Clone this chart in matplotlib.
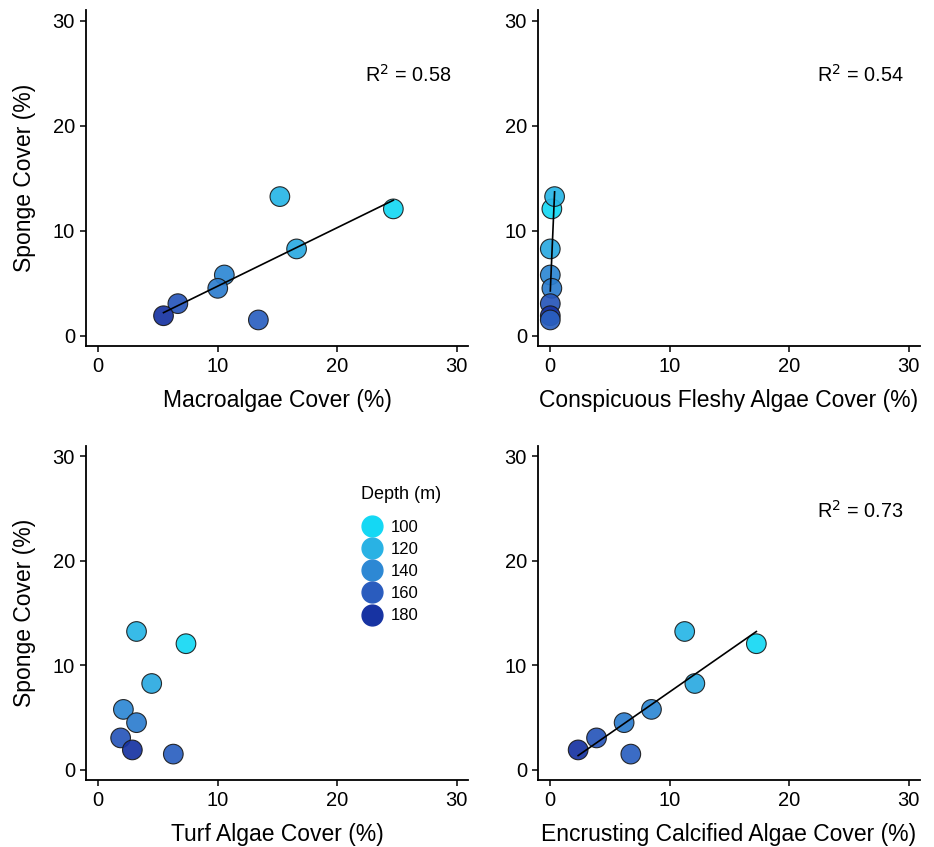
import numpy as np
import matplotlib
matplotlib.use("Agg")
import matplotlib.pyplot as plt
from matplotlib.colors import LinearSegmentedColormap, Normalize
from matplotlib.lines import Line2D

plt.rcParams["font.family"] = ["Liberation Sans", "DejaVu Sans"]

# values (one entry per site)
sponge = [12.07, 13.24, 8.26, 5.78, 4.51, 3.05, 1.90, 1.50]
depth = [100, 118, 124, 140, 145, 163, 180, 158]
macroalgae = [24.7, 15.2, 16.6, 10.55, 10.0, 6.66, 5.46, 13.4]
fleshy = [0.13, 0.36, 0.0, 0.0, 0.13, 0.0, 0.0, 0.0]
turf = [7.34, 3.2, 4.47, 2.1, 3.2, 1.87, 2.85, 6.28]
encrusting = [17.25, 11.25, 12.1, 8.47, 6.18, 3.87, 2.33, 6.74]

legend_depths = [100, 120, 140, 160, 180]
legend_colors = ["#14d8f4", "#29b2e4", "#2d88d4", "#2a5cbe", "#1733a2"]

panels = [
    ("Macroalgae Cover (%)", macroalgae, "0.58"),
    ("Conspicuous Fleshy Algae Cover (%)", fleshy, "0.54"),
    ("Turf Algae Cover (%)", turf, None),
    ("Encrusting Calcified Algae Cover (%)", encrusting, "0.73"),
]

cmap = LinearSegmentedColormap.from_list("depth", legend_colors)
norm = Normalize(100, 180)

W, H = 934, 847
fig = plt.figure(figsize=(W / 100, H / 100), dpi=100)

# axes boxes in pixels: left, top, right, bottom
boxes = [(86, 10, 468, 346), (538, 10, 920, 346),
         (86, 446, 468, 780), (538, 446, 920, 780)]

for i, (xlabel, xvals, r2) in enumerate(panels):
    l, t, r, b = boxes[i]
    ax = fig.add_axes([l / W, 1 - b / H, (r - l) / W, (b - t) / H])
    x = np.array(xvals)
    y = np.array(sponge)

    if r2 is not None:
        k, c = np.polyfit(x, y, 1)
        xs = np.array([x.min(), x.max()])
        ax.plot(xs, k * xs + c, color="black", lw=1.2, zorder=3)
        ax.text(29.6, 24.8, "R$^2$ = " + r2, ha="right", va="center", fontsize=14.3)

    ax.scatter(x, y, s=200, c=cmap(norm(np.array(depth))), edgecolors="#1a1a1a",
               linewidths=0.8, alpha=0.92, zorder=2)

    ax.set_xlim(-1.03, 30.95)
    ax.set_ylim(-0.98, 31.0)
    ax.set_xticks([0, 10, 20, 30])
    ax.set_yticks([0, 10, 20, 30])
    for s in ["top", "right"]:
        ax.spines[s].set_visible(False)
    for s in ["left", "bottom"]:
        ax.spines[s].set_linewidth(1.3)
    ax.tick_params(labelsize=14.5, length=4, width=1.1, colors="black", pad=4)
    ax.set_xlabel(xlabel, fontsize=16.5, labelpad=9)
    if i % 2 == 0:
        ax.set_ylabel("Sponge Cover (%)", fontsize=16.5, labelpad=12)

    if i == 2:
        handles = [Line2D([], [], marker="o", ls="", markersize=15, markerfacecolor=col,
                          markeredgecolor=col, label=str(d))
                   for d, col in zip(legend_depths, legend_colors)]
        leg = ax.legend(handles=handles, title="Depth (m)", loc="upper left",
                        bbox_to_anchor=(0.699, 0.905), frameon=False, fontsize=12,
                        title_fontsize=13, labelspacing=0.43, handletextpad=0.45,
                        handlelength=1.3, borderpad=0)
        leg._legend_box.align = "left"
        leg._legend_box.sep = 12

fig.savefig("out.png", dpi=100)
